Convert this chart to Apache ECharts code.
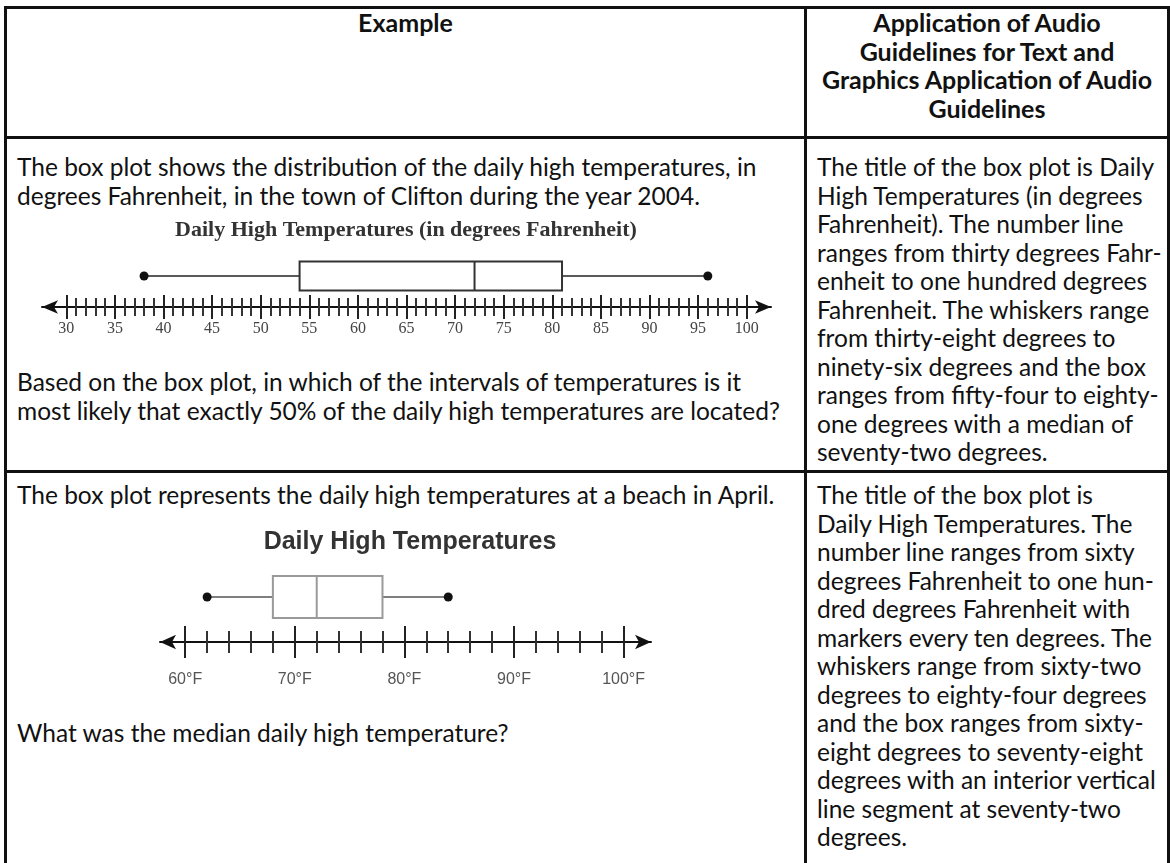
<!DOCTYPE html>
<html>
<head>
<meta charset="utf-8">
<script src="https://cdn.jsdelivr.net/npm/echarts@6/dist/echarts.min.js"></script>
<style>
  html, body { margin: 0; padding: 0; background: #fff; }
  #page { position: relative; width: 1170px; height: 863px; overflow: hidden; font-family: Lato, 'Open Sans', sans-serif; color: #111; }
  .rule { position: absolute; background: #111; }
  .txt { position: absolute; white-space: nowrap; font-size: 24.5px; line-height: 28.5px; }
  .hd { font-weight: bold; font-size: 25px; text-align: center; }
  #chart { position: absolute; left: 0; top: 0; width: 1170px; height: 863px; }
</style>
</head>
<body>
<div id="page">
  <!-- table rules -->
  <div class="rule" style="left:4px;top:6px;width:1166px;height:3px"></div>
  <div class="rule" style="left:4px;top:6px;width:3px;height:857px"></div>
  <div class="rule" style="left:1167px;top:6px;width:3px;height:857px"></div>
  <div class="rule" style="left:804px;top:6px;width:3px;height:857px"></div>
  <div class="rule" style="left:4px;top:136px;width:1166px;height:3px"></div>
  <div class="rule" style="left:4px;top:470px;width:1166px;height:3px"></div>

  <!-- header -->
  <div class="txt hd" style="left:7px;width:797px;top:8px">Example</div>
  <div class="txt hd" style="left:807px;width:360px;top:8px">Application of Audio<br>Guidelines for Text and<br>Graphics Application of Audio<br>Guidelines</div>

  <!-- row 1 -->
  <div class="txt" style="left:17px;top:153px">The box plot shows the distribution of the daily high temperatures, in<br>degrees Fahrenheit, in the town of Clifton during the year 2004.</div>
  <div class="txt" style="left:17px;top:368px">Based on the box plot, in which of the intervals of temperatures is it<br>most likely that exactly 50% of the daily high temperatures are located?</div>
  <div class="txt" style="left:817px;top:153px">The title of the box plot is Daily<br>High Temperatures (in degrees<br>Fahrenheit). The number line<br>ranges from thirty degrees Fahr-<br>enheit to one hundred degrees<br>Fahrenheit. The whiskers range<br>from thirty-eight degrees to<br>ninety-six degrees and the box<br>ranges from fifty-four to eighty-<br>one degrees with a median of<br>seventy-two degrees.</div>

  <!-- row 2 -->
  <div class="txt" style="left:17px;top:481px">The box plot represents the daily high temperatures at a beach in April.</div>
  <div class="txt" style="left:17px;top:719px">What was the median daily high temperature?</div>
  <div class="txt" style="left:817px;top:481px">The title of the box plot is<br>Daily High Temperatures. The<br>number line ranges from sixty<br>degrees Fahrenheit to one hun-<br>dred degrees Fahrenheit with<br>markers every ten degrees. The<br>whiskers range from sixty-two<br>degrees to eighty-four degrees<br>and the box ranges from sixty-<br>eight degrees to seventy-eight<br>degrees with an interior vertical<br>line segment at seventy-two<br>degrees.</div>

  <div id="chart"></div>
</div>

<script>
// box plot values: min, Q1, median, Q3, max
const clifton = [38, 54, 72, 81, 96]
const beach = [62, 68, 72, 78, 84]

// tick labels
const cliftonLabels = [30, 35, 40, 45, 50, 55, 60, 65, 70, 75, 80, 85, 90, 95, 100]
const beachLabels = [60, 70, 80, 90, 100]

const cliftonTitle = 'Daily High Temperatures (in degrees Fahrenheit)'
const beachTitle = 'Daily High Temperatures'

// minor tick positions along each number line
const cliftonMinor = []
for (let v = 30; v <= 100; v++) cliftonMinor.push(v)
const beachMinor = []
for (let v = 60; v <= 100; v += 2) beachMinor.push(v)

const chart = echarts.init(document.getElementById('chart'))

function boxRenderer (halfH, boxColor, lineColor) {
  return function (params, api) {
    const y = api.value(5)
    const p = [0, 1, 2, 3, 4].map(i => api.coord([api.value(i), y]))
    const cy = p[0][1]
    const lw = { stroke: lineColor, lineWidth: 1.6 }
    return {
      type: 'group',
      children: [
        { type: 'line', shape: { x1: p[0][0], y1: cy, x2: p[1][0], y2: cy }, style: lw },
        { type: 'line', shape: { x1: p[3][0], y1: cy, x2: p[4][0], y2: cy }, style: lw },
        { type: 'rect', shape: { x: p[1][0], y: cy - halfH, width: p[3][0] - p[1][0], height: halfH * 2 }, style: { fill: '#fff', stroke: boxColor, lineWidth: 2 } },
        { type: 'line', shape: { x1: p[2][0], y1: cy - halfH, x2: p[2][0], y2: cy + halfH }, style: { stroke: boxColor, lineWidth: 2 } },
        { type: 'circle', shape: { cx: p[0][0], cy: cy, r: 4.5 }, style: { fill: '#111' } },
        { type: 'circle', shape: { cx: p[4][0], cy: cy, r: 4.5 }, style: { fill: '#111' } }
      ]
    }
  }
}

function tickAxis (grid, min, max, values, half, color) {
  return {
    gridIndex: grid, type: 'value', min: min, max: max, position: 'bottom', offset: -half,
    axisLine: { show: false },
    axisTick: { show: true, customValues: values, length: half * 2, lineStyle: { color: color, width: 2 } },
    axisLabel: { show: false },
    splitLine: { show: false }
  }
}

const option = {
  animation: false,
  grid: [
    { left: 42, top: 245, width: 729, height: 62 },
    { left: 160, top: 552, width: 491, height: 90 }
  ],
  xAxis: [
    {
      gridIndex: 0, type: 'value', min: 27.5, max: 102.5, position: 'bottom',
      axisLine: { show: true, symbol: ['arrow', 'arrow'], symbolSize: [10, 16], lineStyle: { color: '#111', width: 2 } },
      axisTick: { show: false },
      splitLine: { show: false },
      axisLabel: { customValues: cliftonLabels, margin: 14, fontFamily: 'Liberation Serif', fontSize: 16, color: '#444' }
    },
    tickAxis(0, 27.5, 102.5, cliftonMinor, 9, '#333'),
    tickAxis(0, 27.5, 102.5, cliftonLabels, 12, '#222'),
    {
      gridIndex: 1, type: 'value', min: 57.7, max: 102.5, position: 'bottom',
      axisLine: { show: true, symbol: ['arrow', 'arrow'], symbolSize: [11, 16], lineStyle: { color: '#111', width: 2 } },
      axisTick: { show: false },
      splitLine: { show: false },
      axisLabel: { customValues: beachLabels, margin: 30, fontFamily: 'Liberation Sans', fontSize: 16, color: '#555', formatter: v => v + '°F' }
    },
    tickAxis(1, 57.7, 102.5, beachMinor, 11, '#333'),
    tickAxis(1, 57.7, 102.5, beachLabels, 16, '#222')
  ],
  yAxis: [
    { gridIndex: 0, type: 'value', min: 0, max: 2, show: false },
    { gridIndex: 1, type: 'value', min: 0, max: 2, show: false }
  ],
  graphic: [
    { type: 'text', x: 406, y: 230, style: { text: cliftonTitle, align: 'center', verticalAlign: 'middle', fontFamily: 'Liberation Serif', fontWeight: 'bold', fontSize: 22, fill: '#333' } },
    { type: 'text', x: 410, y: 542, style: { text: beachTitle, align: 'center', verticalAlign: 'middle', fontFamily: 'Liberation Sans', fontWeight: 'bold', fontSize: 25, fill: '#333' } }
  ],
  series: [
    {
      type: 'custom', xAxisIndex: 0, yAxisIndex: 0,
      renderItem: boxRenderer(14.5, '#333', '#222'),
      encode: { x: [0, 1, 2, 3, 4], y: 5 },
      data: [clifton.concat([1])]
    },
    {
      type: 'custom', xAxisIndex: 3, yAxisIndex: 1,
      renderItem: boxRenderer(21, '#9a9a9a', '#555'),
      encode: { x: [0, 1, 2, 3, 4], y: 5 },
      data: [beach.concat([1])]
    }
  ]
}

chart.setOption(option)
</script>
</body>
</html>
